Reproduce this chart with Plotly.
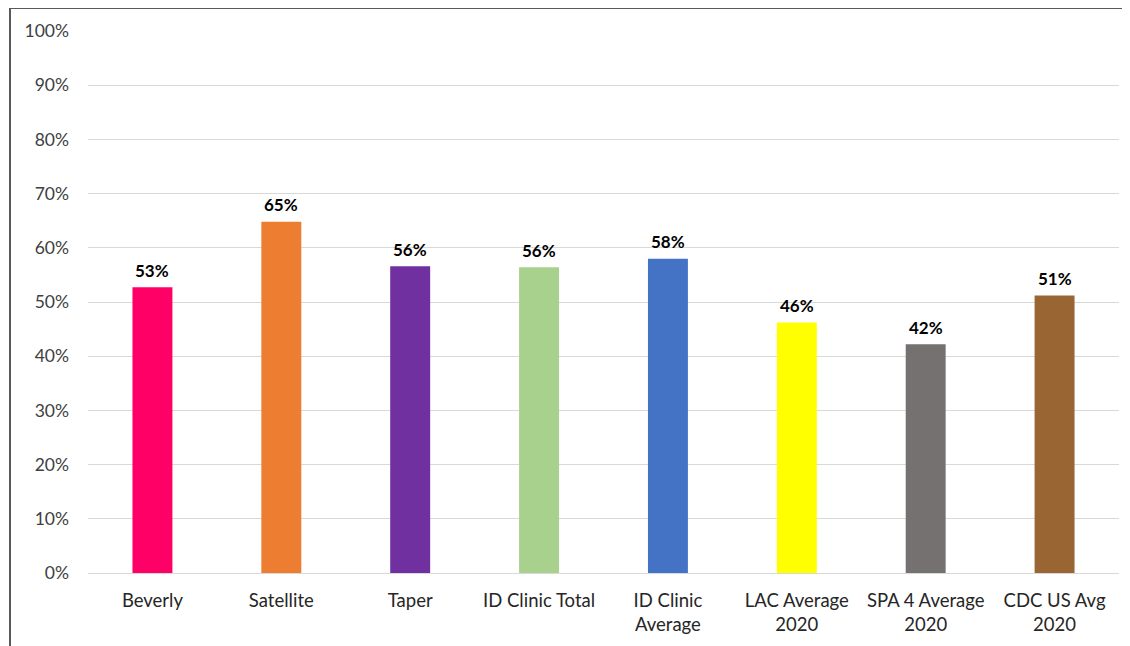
import plotly.graph_objects as go

categories = ["Beverly", "Satellite", "Taper", "ID Clinic Total", "ID Clinic<br>Average",
              "LAC Average<br>2020", "SPA 4 Average<br>2020", "CDC US Avg<br>2020"]
values = [0.527, 0.648, 0.566, 0.564, 0.58, 0.462, 0.422, 0.512]
labels = ["53%", "65%", "56%", "56%", "58%", "46%", "42%", "51%"]
colors = ["#FF0066", "#ED7D31", "#7030A0", "#A9D18E", "#4472C4", "#FFFF00", "#767171", "#996633"]

# page has an 8px body margin; figure sized to reach the window edges
OFF = 8
W, H = 1130 - OFF, 646 - OFF
L, T = 88 - OFF, 31 - OFF
R = (OFF + W) - 1119
B = (OFF + H) - 573
pw, ph = W - L - R, H - T - B

fig = go.Figure(go.Bar(
    x=categories, y=values, marker=dict(color=colors, line=dict(width=0)),
    hoverinfo="x+y",
))

for c, v, t in zip(categories, values, labels):
    fig.add_annotation(x=c, y=v, text=t, showarrow=False, yshift=17, yanchor="middle",
                       font=dict(family="Lato", size=17, color="#000000", weight="bold"))

def px(x):
    return (x - OFF - L) / pw

def py(y):
    return 1 - (y - OFF - T) / ph

fig.update_layout(
    width=W, height=H,
    margin=dict(l=L, r=R, t=T, b=B),
    paper_bgcolor="white", plot_bgcolor="white",
    bargap=0.69,
    showlegend=False,
    font=dict(family="Lato", size=16, color="#404040"),
    xaxis=dict(tickfont=dict(size=18.5, color="#262626"), showgrid=False, showline=False, ticks="",
               ticklabelstandoff=14),
    yaxis=dict(range=[0, 1], dtick=0.1, tickformat=".0%", showgrid=True, gridcolor="#D9D9D9",
               gridwidth=1, zeroline=True, zerolinecolor="#D9D9D9", zerolinewidth=1,
               tickfont=dict(size=17.5, color="#404040"), ticklabelstandoff=18, showline=False),
    shapes=[
        dict(type="line", xref="paper", yref="paper", x0=px(10), x1=px(1140), y0=py(8), y1=py(8),
             line=dict(color="#595959", width=2)),
        dict(type="line", xref="paper", yref="paper", x0=px(10), x1=px(10), y0=py(8), y1=py(660),
             line=dict(color="#595959", width=2)),
    ],
)

fig.write_html("out.html")
